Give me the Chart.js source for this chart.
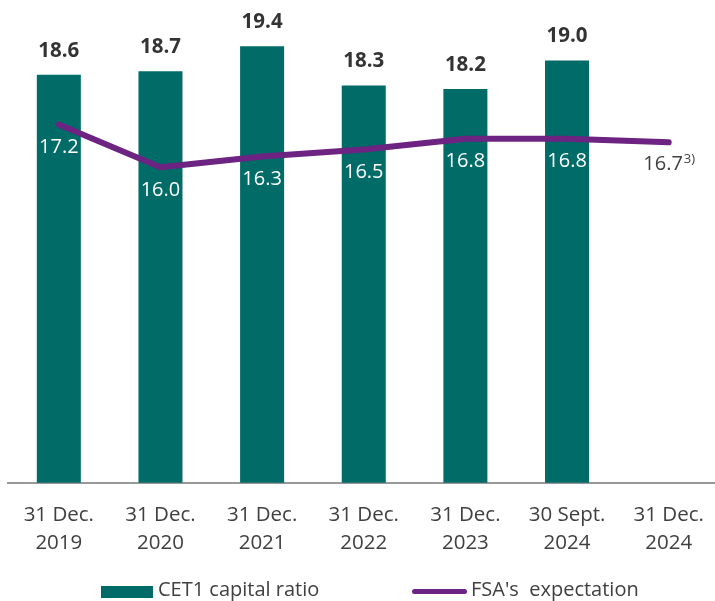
<!DOCTYPE html>
<html>
<head>
<meta charset="utf-8">
<script src="https://cdn.jsdelivr.net/npm/chart.js"></script>
<style>
  html, body { margin:0; padding:0; background:#fff; overflow:hidden; width:715px; height:601px; }
  #wrap { position:relative; width:722px; height:601px; }
  #chart { position:absolute; left:0; top:0; }
  .lg { position:absolute; font-family:"Open Sans", sans-serif; font-size:20px; line-height:20px; color:#404040; white-space:pre; }
</style>
</head>
<body>
<div id="wrap">
  <canvas id="chart" width="722" height="601"></canvas>
  <div class="lg" style="left:101px;top:586px;width:52px;height:12px;background:#006b67;"></div>
  <div class="lg" style="left:158px;top:579px;">CET1 capital ratio</div>
  <div class="lg" style="left:412px;top:589px;width:55px;height:5px;background:#6c2382;border-radius:3px;"></div>
  <div class="lg" style="left:471px;top:579px;">FSA's  expectation</div>
</div>
<script>
  // categories + values
  const labels = [
    ["31 Dec.", "2019"], ["31 Dec.", "2020"], ["31 Dec.", "2021"], ["31 Dec.", "2022"],
    ["31 Dec.", "2023"], ["30 Sept.", "2024"], ["31 Dec.", "2024"]
  ];
  const cet1 = [18.6, 18.7, 19.4, 18.3, 18.2, 19.0, null];
  const fsa = [17.2, 16.0, 16.3, 16.5, 16.8, 16.8, 16.7];
  const fsaNote = "3)"; // footnote on the last expectation value

  const teal = "#006b67";
  const purple = "#6c2382";
  const font = '"Open Sans", sans-serif';

  // value labels: bold above bars, white inside bars for the line
  const valueLabels = {
    id: "valueLabels",
    afterDatasetsDraw(chart) {
      const ctx = chart.ctx;
      ctx.save();
      ctx.textAlign = "center";
      ctx.textBaseline = "middle";

      chart.getDatasetMeta(0).data.forEach((bar, i) => {
        if (cet1[i] == null) return;
        ctx.font = "bold 20.5px " + font;
        ctx.fillStyle = "#333";
        ctx.fillText(cet1[i].toFixed(1), bar.x, bar.y - 24);
      });

      const pts = chart.getDatasetMeta(1).data;
      pts.forEach((p, i) => {
        const txt = fsa[i].toFixed(1);
        ctx.font = "20px " + font;
        if (i === pts.length - 1) {
          ctx.fillStyle = "#404040";
          const w1 = ctx.measureText(txt).width;
          ctx.font = "13px " + font;
          const w2 = ctx.measureText(fsaNote).width;
          const x0 = p.x - (w1 + w2) / 2;
          ctx.textAlign = "left";
          ctx.font = "20px " + font;
          ctx.fillText(txt, x0, p.y + 22);
          ctx.font = "13px " + font;
          ctx.fillText(fsaNote, x0 + w1 + 1, p.y + 17);
          ctx.textAlign = "center";
        } else {
          ctx.fillStyle = "#fff";
          ctx.fillText(txt, p.x, p.y + 23);
        }
      });
      ctx.restore();
    }
  };

  new Chart(document.getElementById("chart"), {
    type: "bar",
    data: {
      labels,
      datasets: [
        {
          label: "CET1 capital ratio",
          data: cet1,
          backgroundColor: teal,
          categoryPercentage: 1,
          barPercentage: 0.433,
          order: 2
        },
        {
          type: "line",
          label: "FSA's  expectation",
          data: fsa,
          borderColor: purple,
          borderWidth: 6,
          borderCapStyle: "round",
          borderJoinStyle: "round",
          pointRadius: 0,
          tension: 0,
          order: 1
        }
      ]
    },
    options: {
      responsive: false,
      animation: false,
      layout: { padding: { left: 8, right: 2, top: 0, bottom: 26 } },
      plugins: { legend: { display: false }, tooltip: { enabled: false } },
      scales: {
        y: { display: false, min: 7.13, max: 20.7 },
        x: {
          grid: { display: false, drawTicks: false },
          border: { display: true, color: "#999", width: 2 },
          ticks: {
            padding: 18,
            color: "#404040",
            font: { family: font, size: 20.5, lineHeight: 1.37 }
          }
        }
      }
    },
    plugins: [valueLabels]
  });
</script>
</body>
</html>
